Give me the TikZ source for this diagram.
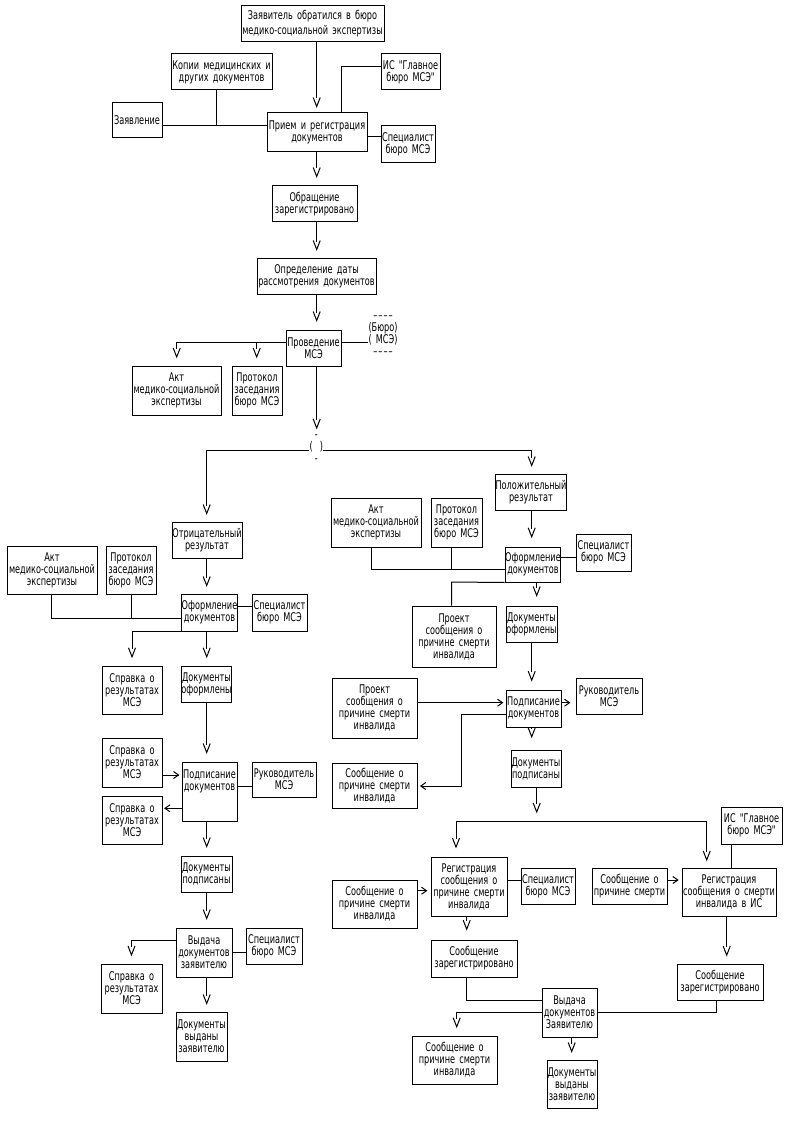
\documentclass[tikz,border=0pt]{standalone}
\usepackage{fontspec}
\setmainfont{DejaVu Sans}[FakeStretch=0.68,WordSpace=1.6]
\newfontfamily\ff{DejaVu Sans}[FakeStretch=0.68,WordSpace=1.6]
\newcommand\bx[7][]{\node[box,#1,minimum width={(#5)-(#3)},minimum height={(#6)-(#4)}] (#2) at ({((#3)+(#5))/2},{((#4)+(#6))/2}) {#7};}
\newcommand\dsh{\textendash\kern1pt\textendash\kern1pt\textendash\kern1pt\textendash}
\tikzset{
 box/.style={draw, line width=1pt, inner sep=0pt, align=center, font=\ff\fontsize{12}{12}\selectfont},
 txt/.style={inner sep=0pt, align=center, font=\ff\fontsize{12}{12}\selectfont},
 ln/.style={line width=1pt},
 vd/.pic={\draw[line width=1pt] (-3.5,-1) -- (0,8) -- (3.5,-1);},
 cr/.pic={\draw[line width=1pt] (-5,-3.5) -- (0,0) -- (-5,3.5);},
 cl/.pic={\draw[line width=1pt] (5,-3.5) -- (0,0) -- (5,3.5);},
}
\begin{document}
\begin{tikzpicture}[x=1pt,y=-1pt]
\useasboundingbox (0,0) rectangle (791,1123);
% ---------- nodes
\bx[font=\ff\fontsize{12}{15}\selectfont]{top}{241}{6}{384}{42}{Заявитель обратился в бюро\\медико-социальной экспертизы}
\bx{kop}{171}{54}{272}{90}{Копии медицинских и\\других документов}
\bx{zay}{112}{103}{162}{138}{Заявление}
\bx{pri}{267}{113}{367}{152}{Прием и регистрация\\документов}
\bx{is1}{381}{54}{440}{90}{ИС "Главное\\бюро МСЭ"}
\bx{sp1}{381}{126}{435}{163}{Специалист\\бюро МСЭ}
\bx{obr}{272}{186}{357}{222}{Обращение\\зарегистрировано}
\bx{opr}{257}{258}{376}{294}{Определение даты\\рассмотрения документов}
\bx{pro}{286}{330}{341}{366}{Проведение\\МСЭ}
\bx{akt1}{132}{366}{221}{415}{Акт\\медико-социальной\\экспертизы}
\bx{prt1}{232}{366}{282}{415}{Протокол\\заседания\\бюро МСЭ}
\node[txt] (bm) at (383,336) {\dsh\\(Бюро)\\(\ МСЭ)\\\dsh};
\node[txt] (dec) at (316.3,449) {-\\(\hspace{7pt})\\-};
\bx{neg}{172}{522}{242}{558}{Отрицательный\\результат}
\bx{akt2}{7}{546}{97}{594}{Акт\\медико-социальной\\экспертизы}
\bx{prt2}{106}{546}{156}{594}{Протокол\\заседания\\бюро МСЭ}
\bx{ofo1}{182}{594}{237}{631}{Оформление\\документов}
\bx{sp2}{252}{594}{307}{631}{Специалист\\бюро МСЭ}
\bx{spr1}{102}{666}{162}{714}{Справка о\\результатах\\МСЭ}
\bx{dof1}{182}{666}{231}{702}{Документы\\оформлены}
\bx{spr2}{102}{738}{162}{787}{Справка о\\результатах\\МСЭ}
\bx{pod1}{182}{762}{237}{821}{}
\node[txt] (pod1t) at (209.5,781) {Подписание\\документов};
\bx{ruk1}{252}{762}{316}{797}{Руководитель\\МСЭ}
\bx{spr3}{102}{796}{162}{844}{Справка о\\результатах\\МСЭ}
\bx{dpd1}{181}{856}{232}{892}{Документы\\подписаны}
\bx{vyd1}{176}{928}{232}{977}{Выдача\\документов\\заявителю}
\bx{sp3}{246}{928}{302}{964}{Специалист\\бюро МСЭ}
\bx{spr4}{101}{964}{162}{1013}{Справка о\\результатах\\МСЭ}
\bx{dvz1}{176}{1012}{227}{1061}{Документы\\выданы\\заявителю}
\bx{pos}{496}{474}{566}{510}{Положительный\\результат}
\bx{akt3}{331}{498}{421}{547}{Акт\\медико-социальной\\экспертизы}
\bx{prt3}{431}{498}{482}{547}{Протокол\\заседания\\бюро МСЭ}
\bx{ofo2}{506}{547}{560}{582}{Оформление\\документов}
\bx{sp4}{576}{534}{631}{571}{Специалист\\бюро МСЭ}
\bx{prj1}{412}{606}{496}{667}{Проект\\сообщения о\\причине смерти\\инвалида}
\bx{dof2}{506}{606}{557}{642}{Документы\\оформлены}
\bx{prj2}{332}{678}{417}{738}{Проект\\сообщения о\\причине смерти\\инвалида}
\bx{pod2}{506}{690}{561}{727}{Подписание\\документов}
\bx{ruk2}{576}{678}{642}{714}{Руководитель\\МСЭ}
\bx{soo1}{332}{763}{417}{808}{Сообщение о\\причине смерти\\инвалида}
\bx{dpd2}{511}{750}{561}{787}{Документы\\подписаны}
\bx{is2}{721}{807}{782}{844}{ИС "Главное\\бюро МСЭ"}
\bx{reg1}{431}{857}{507}{916}{Регистрация\\сообщения о\\причине смерти\\инвалида}
\bx{sp5}{521}{868}{575}{904}{Специалист\\бюро МСЭ}
\bx{soo2}{332}{880}{417}{928}{Сообщение о\\причине смерти\\инвалида}
\bx{soo3}{592}{868}{667}{904}{Сообщение о\\причине смерти}
\bx{reg2}{682}{868}{776}{916}{Регистрация\\сообщения о смерти\\инвалида в ИС}
\bx{szr1}{431}{940}{517}{977}{Сообщение\\зарегистрировано}
\bx{szr2}{677}{964}{763}{1000}{Сообщение\\зарегистрировано}
\bx{vyd2}{542}{988}{597}{1037}{Выдача\\документов\\Заявителю}
\bx{soo4}{412}{1036}{497}{1084}{Сообщение о\\причине смерти\\инвалида}
\bx{dvz2}{547}{1060}{597}{1108}{Документы\\выданы\\заявителю}
% ---------- coordinates
\coordinate (ax) at (316.7,0);
\coordinate (j1) at (216,126);
\coordinate (j2) at (341,67);
\coordinate (j4) at (176.7,342.3);
\coordinate (j5) at (256.7,342.3);
\coordinate (j6) at (206.7,450);
\coordinate (j7) at (531.7,450);
\coordinate (j8) at (51.7,618.3);
\coordinate (j9) at (371.7,569.3);
\coordinate (j10) at (451.7,569.3);
\coordinate (j11) at (451.7,582);
\coordinate (j12) at (536.7,0);
\coordinate (j13) at (461.7,714.3);
\coordinate (j14) at (461.7,786);
\coordinate (b1) at (456,821);
\coordinate (b2) at (706.7,821);
\coordinate (r1) at (466.7,0);
\coordinate (r2) at (726.7,0);
\coordinate (r3) at (716.7,0);
\coordinate (r4) at (456.7,1012.3);
\coordinate (r5) at (571.7,0);
\coordinate (r6) at (731.7,0);
% ---------- connectors: top part
\draw[ln] (top.south -| ax) -- ([yshift=14pt]pri.north -| ax) pic{vd};
\draw[ln] (zay.east |- j1) -- (pri.west |- j1);
\draw[ln] (kop.south -| j1) -- (j1);
\draw[ln] (is1.west |- j2) -- (j2) -- (pri.north -| j2);
\draw[ln] (sp1.west |- 0,137) -- (pri.east |- 0,137);
\draw[ln] (pri.south -| ax) -- ([yshift=17pt]obr.north -| ax) pic{vd};
\draw[ln] (obr.south -| ax) -- ([yshift=16pt]opr.north -| ax) pic{vd};
\draw[ln] (opr.south -| ax) -- ([yshift=17pt]pro.north -| ax) pic{vd};
\draw[ln] (pro.west |- j4) -- (j4) -- ([yshift=16.5pt]akt1.north -| j4) pic{vd};
\draw[ln] (j5) -- ([yshift=16.5pt]prt1.north -| j5) pic{vd};
\draw[ln] (pro.east |- j4) -- (bm.west |- j4);
\draw[ln] (pro.south -| ax) -- ([yshift=29pt]dec.center -| ax) pic{vd};
\draw[ln] (dec.west |- j6) -- (j6) -- ([yshift=16pt]neg.north -| j6) pic{vd};
\draw[ln] (dec.east |- j7) -- (j7) -- ([yshift=16pt]pos.north -| j7) pic{vd};
% left branch
\draw[ln] (neg.south -| j6) -- ([yshift=16pt]ofo1.north -| j6) pic{vd};
\draw[ln] (akt2.south -| j8) -- (j8) -- (ofo1.west |- j8);
\draw[ln] (prt2.south) -- (prt2.south |- j8);
\draw[ln] (sp2.west |- 0,606) -- (ofo1.east |- 0,606);
\draw[ln] (ofo1.south west) -| ([yshift=16.7pt]spr1.north) pic{vd};
\draw[ln] (ofo1.south -| j6) -- ([yshift=16.7pt]dof1.north -| j6) pic{vd};
\draw[ln] (dof1.south -| j6) -- ([yshift=17pt]pod1.north -| j6) pic{vd};
\draw[ln] (spr2.east |- 0,775) -- ([xshift=-3pt]pod1.west |- 0,775) pic{cr};
\draw[ln] (pod1.west |- 0,808.3) -- ([xshift=2.5pt]spr3.east |- 0,808.3) pic{cl};
\draw[ln] (ruk1.west |- 0,786) -- (pod1.east |- 0,786);
\draw[ln] (pod1.south -| j6) -- ([yshift=17pt]dpd1.north -| j6) pic{vd};
\draw[ln] (dpd1.south -| j6) -- ([yshift=17pt]vyd1.north -| j6) pic{vd};
\draw[ln] (vyd1.west |- 0,940) -| ([yshift=16.6pt]spr4.north) pic{vd};
\draw[ln] (sp3.west |- 0,952.3) -- (vyd1.east |- 0,952.3);
\draw[ln] (vyd1.south -| j6) -- ([yshift=16pt]dvz1.north -| j6) pic{vd};
% right branch
\draw[ln] (pos.south -| j7) -- ([yshift=17.7pt]ofo2.north -| j7) pic{vd};
\draw[ln] (akt3.south -| j9) -- (j9) -- (ofo2.west |- j9);
\draw[ln] (prt3.south -| j10) -- (j10);
\draw[ln] (sp4.west |- 0,557.3) -- (ofo2.east |- 0,557.3);
\draw[ln] (ofo2.south west) -- (j11) -- (prj1.north -| j11);
\draw[ln] (ofo2.south -| j12) -- ([yshift=18pt]dof2.north -| j12) pic{vd};
\draw[ln] (dof2.south -| j7) -- ([yshift=17.3pt]pod2.north -| j7) pic{vd};
\draw[ln] (prj2.east |- 0,702.7) -- ([xshift=-3pt]pod2.west |- 0,702.7) pic{cr};
\draw[ln] (pod2.east |- 0,702.7) -- ([xshift=-6pt]ruk2.west |- 0,702.7) pic{cr};
\draw[ln] (pod2.west |- j13) -- (j13) -- (j14) -- ([xshift=3.3pt]soo1.east |- j14) pic{cl};
\draw[ln] (pod2.south -| j7) -- ([yshift=20.7pt]dpd2.north -| j7) pic{vd};
\draw[ln] (dpd2.south -| j12) -- ([yshift=17pt]b1 -| j12) pic{vd};
\draw[ln] (b1) -- (b2) -- ([yshift=15.6pt]reg2.north -| b2) pic{vd};
\draw[ln] (b1) -- ([yshift=17.4pt]reg1.north -| b1) pic{vd};
\draw[ln] (soo2.east |- 0,890.7) -- ([xshift=-4pt]reg1.west |- 0,890.7) pic{cr};
\draw[ln] (sp5.west |- 0,880) -- (reg1.east |- 0,880);
\draw[ln] (soo3.east |- 0,880) -- ([xshift=-3.7pt]reg2.west |- 0,880) pic{cr};
\draw[ln] (is2.south -| r6) -- (reg2.north -| r6);
\draw[ln] (reg1.south -| r1) -- ([yshift=18.3pt]szr1.north -| r1) pic{vd};
\draw[ln] (reg2.south -| r2) -- ([yshift=16.3pt]szr2.north -| r2) pic{vd};
\draw[ln] (szr1.south -| r1) |- (vyd2.west |- 0,1000);
\draw[ln] (szr2.south -| r3) |- (vyd2.east |- 0,1012.3);
\draw[ln] (vyd2.west |- r4) -- (r4) -- ([yshift=16.7pt]soo4.north -| r4) pic{vd};
\draw[ln] (vyd2.south -| r5) -- ([yshift=16pt]dvz2.north -| r5) pic{vd};
\end{tikzpicture}
\end{document}
